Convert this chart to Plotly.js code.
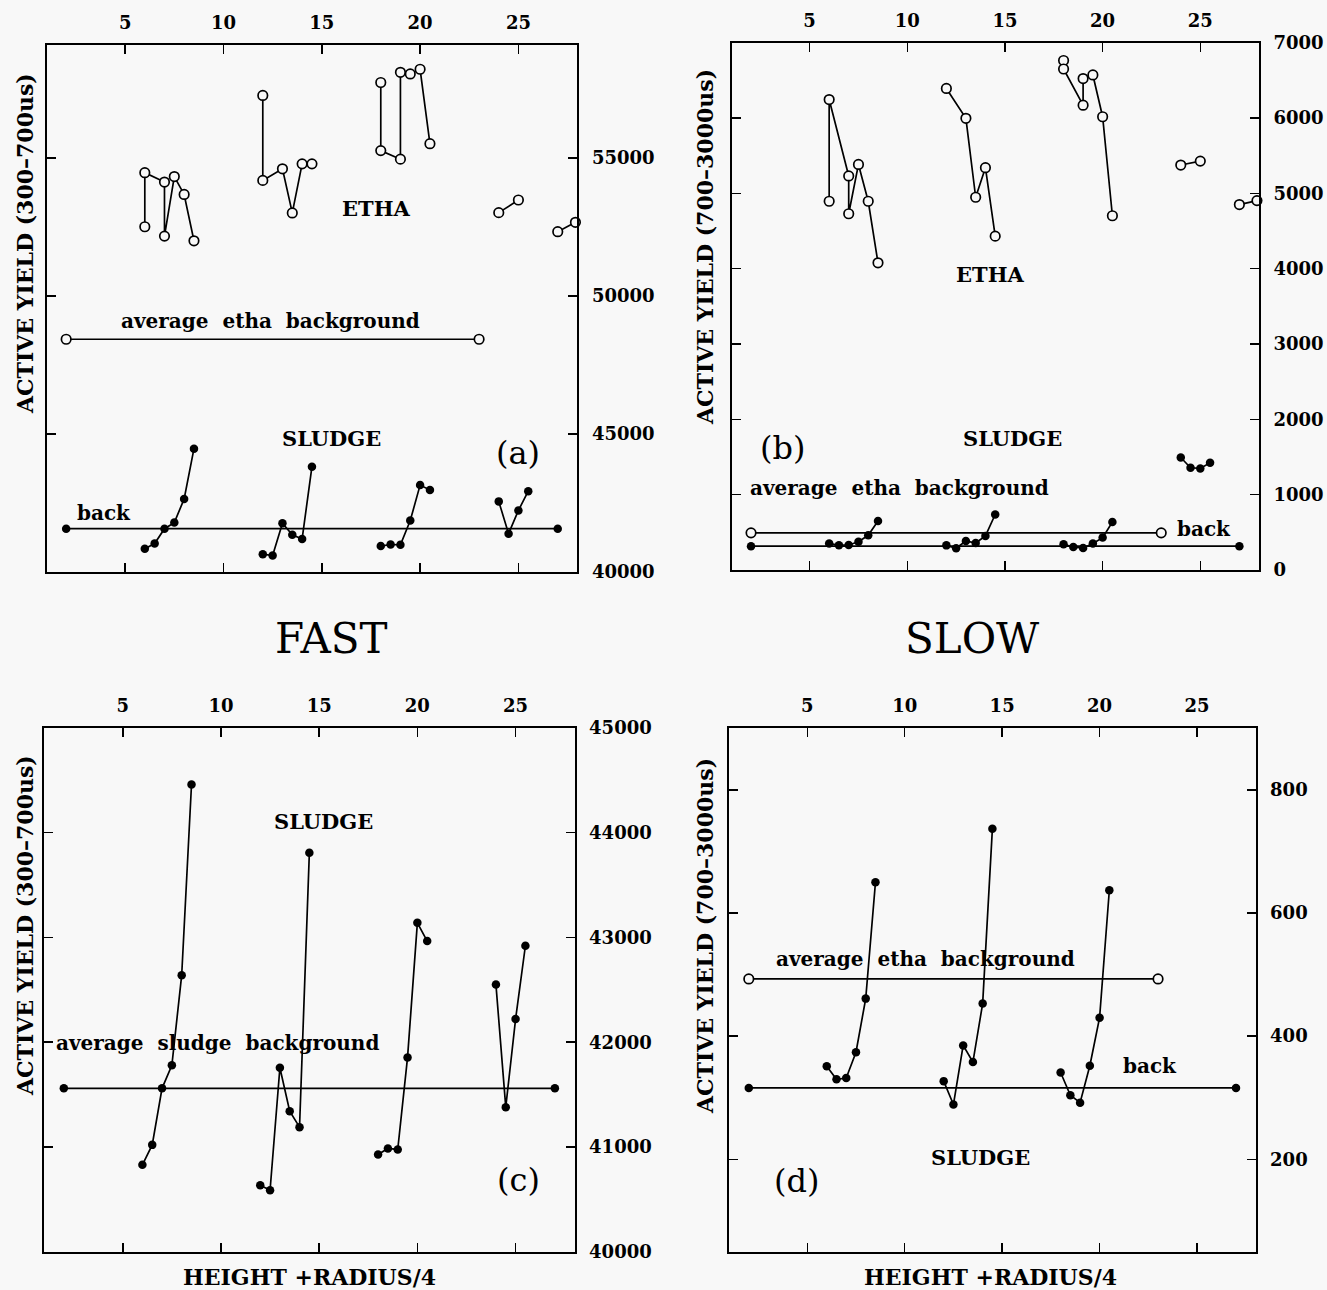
<!DOCTYPE html>
<html>
<head>
<meta charset="utf-8">
<script src="https://cdn.plot.ly/plotly-3.0.1.min.js"></script>
<style>html,body{margin:0;padding:0;background:#f8f8f8;}#chart{width:1327px;height:1290px;}</style>
</head>
<body>
<div id="chart"></div>
<script>
// ---------------- DATA ----------------
const xTicks = [5, 10, 15, 20, 25];
const fastTicksA = [40000, 45000, 50000, 55000];
const slowTicksB = [0, 1000, 2000, 3000, 4000, 5000, 6000, 7000];
const fastTicksC = [40000, 41000, 42000, 43000, 44000, 45000];
const slowTicksD = [200, 400, 600, 800];

// ETHA, fast window (300-700us)
const ethaFastG1X = [6, 6, 7, 7, 7.5, 8, 8.5];
const ethaFastG1Y = [52510, 54470, 54130, 52170, 54330, 53680, 52000];
const ethaFastG2X = [12, 12, 13, 13.5, 14, 14.5];
const ethaFastG2Y = [57270, 54190, 54610, 53010, 54790, 54790];
const ethaFastG3X = [18, 18, 19, 19, 19.5, 20, 20.5];
const ethaFastG3Y = [57740, 55270, 54960, 58110, 58050, 58220, 55520];
const ethaFastG4X = [24, 25];
const ethaFastG4Y = [53020, 53480];
const ethaFastG5X = [27, 27.9];
const ethaFastG5Y = [52330, 52670];
const ethaFastBackX = [2, 23];
const ethaFastBackY = [48430, 48430];

// SLUDGE, fast window (300-700us)
const sludgeFastG1X = [6, 6.5, 7, 7.5, 8, 8.5];
const sludgeFastG1Y = [40830, 41020, 41560, 41780, 42640, 44460];
const sludgeFastG2X = [12, 12.5, 13, 13.5, 14, 14.5];
const sludgeFastG2Y = [40635, 40587, 41756, 41342, 41189, 43809];
const sludgeFastG3X = [18, 18.5, 19, 19.5, 20, 20.5];
const sludgeFastG3Y = [40928, 40986, 40976, 41855, 43140, 42966];
const sludgeFastG4X = [24, 24.5, 25, 25.5];
const sludgeFastG4Y = [42550, 41380, 42221, 42921];
const sludgeFastBackX = [2, 27];
const sludgeFastBackY = [41560, 41560];

// ETHA, slow window (700-3000us)
const ethaSlowG1X = [6, 6, 7, 7, 7.5, 8, 8.5];
const ethaSlowG1Y = [4895, 6245, 5231, 4729, 5384, 4895, 4078];
const ethaSlowG2X = [12, 13, 13.5, 14, 14.5];
const ethaSlowG2Y = [6393, 5996, 4948, 5341, 4432];
const ethaSlowG3X = [18, 18, 19, 19, 19.5, 20, 20.5];
const ethaSlowG3Y = [6764, 6651, 6170, 6524, 6572, 6017, 4703];
const ethaSlowG4X = [24, 25];
const ethaSlowG4Y = [5376, 5428];
const ethaSlowG5X = [27, 27.9];
const ethaSlowG5Y = [4851, 4904];
const ethaSlowBackX = [2, 23];
const ethaSlowBackY = [493, 493];

// SLUDGE, slow window (700-3000us)
const sludgeSlowG1X = [6, 6.5, 7, 7.5, 8, 8.5];
const sludgeSlowG1Y = [351, 330, 332, 374, 461, 650];
const sludgeSlowG2X = [12, 12.5, 13, 13.5, 14, 14.5];
const sludgeSlowG2Y = [327, 289, 385, 358, 453, 737];
const sludgeSlowG3X = [18, 18.5, 19, 19.5, 20, 20.5];
const sludgeSlowG3Y = [341, 304, 292, 352, 430, 637];
const sludgeSlowG4X = [24, 24.5, 25, 25.5];
const sludgeSlowG4Y = [1493, 1357, 1348, 1425];
const sludgeSlowBackX = [2, 27];
const sludgeSlowBackY = [316, 316];

// ---------------- STYLE ----------------
const W = 1327, H = 1290;
const BG = '#f8f8f8';
const SERIF = '"DejaVu Serif", "Liberation Serif", serif';
const px = v => v / W;
const py = v => 1 - v / H;

function open(x, y, xa, ya) {
  return {x: x, y: y, xaxis: xa, yaxis: ya, type: 'scatter', mode: 'lines+markers',
    line: {color: 'black', width: 1.7},
    marker: {symbol: 'circle', size: 9.5, color: BG, line: {color: 'black', width: 1.7}},
    cliponaxis: false, hoverinfo: 'skip', showlegend: false};
}
function filled(x, y, xa, ya, clip) {
  return {x: x, y: y, xaxis: xa, yaxis: ya, type: 'scatter', mode: 'lines+markers',
    line: {color: 'black', width: 1.7},
    marker: {symbol: 'circle', size: 8.5, color: 'black'},
    cliponaxis: !!clip, hoverinfo: 'skip', showlegend: false};
}

const traces = [
  // (a)
  open(ethaFastG1X, ethaFastG1Y, 'x', 'y'),
  open(ethaFastG2X, ethaFastG2Y, 'x', 'y'),
  open(ethaFastG3X, ethaFastG3Y, 'x', 'y'),
  open(ethaFastG4X, ethaFastG4Y, 'x', 'y'),
  open(ethaFastG5X, ethaFastG5Y, 'x', 'y'),
  open(ethaFastBackX, ethaFastBackY, 'x', 'y'),
  filled(sludgeFastBackX, sludgeFastBackY, 'x', 'y'),
  filled(sludgeFastG1X, sludgeFastG1Y, 'x', 'y'),
  filled(sludgeFastG2X, sludgeFastG2Y, 'x', 'y'),
  filled(sludgeFastG3X, sludgeFastG3Y, 'x', 'y'),
  filled(sludgeFastG4X, sludgeFastG4Y, 'x', 'y'),
  // (b)
  open(ethaSlowG1X, ethaSlowG1Y, 'x2', 'y2'),
  open(ethaSlowG2X, ethaSlowG2Y, 'x2', 'y2'),
  open(ethaSlowG3X, ethaSlowG3Y, 'x2', 'y2'),
  open(ethaSlowG4X, ethaSlowG4Y, 'x2', 'y2'),
  open(ethaSlowG5X, ethaSlowG5Y, 'x2', 'y2'),
  open(ethaSlowBackX, ethaSlowBackY, 'x2', 'y2'),
  filled(sludgeSlowBackX, sludgeSlowBackY, 'x2', 'y2'),
  filled(sludgeSlowG1X, sludgeSlowG1Y, 'x2', 'y2'),
  filled(sludgeSlowG2X, sludgeSlowG2Y, 'x2', 'y2'),
  filled(sludgeSlowG3X, sludgeSlowG3Y, 'x2', 'y2'),
  filled(sludgeSlowG4X, sludgeSlowG4Y, 'x2', 'y2'),
  // (c)
  filled(sludgeFastBackX, sludgeFastBackY, 'x3', 'y3', true),
  filled(sludgeFastG1X, sludgeFastG1Y, 'x3', 'y3', true),
  filled(sludgeFastG2X, sludgeFastG2Y, 'x3', 'y3', true),
  filled(sludgeFastG3X, sludgeFastG3Y, 'x3', 'y3', true),
  filled(sludgeFastG4X, sludgeFastG4Y, 'x3', 'y3', true),
  // (d)
  {...open(ethaSlowBackX, ethaSlowBackY, 'x4', 'y4'), cliponaxis: true},
  filled(sludgeSlowBackX, sludgeSlowBackY, 'x4', 'y4', true),
  filled(sludgeSlowG1X, sludgeSlowG1Y, 'x4', 'y4', true),
  filled(sludgeSlowG2X, sludgeSlowG2Y, 'x4', 'y4', true),
  filled(sludgeSlowG3X, sludgeSlowG3Y, 'x4', 'y4', true)
];

const tickFont = {family: SERIF, size: 18, color: 'black', weight: 'bold'};
function xAx(domain, anchor) {
  return {domain: domain, anchor: anchor, side: 'top', range: [1, 28],
    tickvals: xTicks, ticktext: xTicks.map(String), ticks: 'inside', ticklen: 9, tickwidth: 1.5,
    tickcolor: 'black', showline: true, linewidth: 2, linecolor: 'black', mirror: 'ticks',
    showgrid: false, zeroline: false, tickfont: tickFont, ticklabelstandoff: 7, fixedrange: true};
}
function yAx(domain, anchor, range, vals) {
  return {domain: domain, anchor: anchor, side: 'right', range: range,
    tickvals: vals, ticktext: vals.map(String), ticks: 'inside', ticklen: 9, tickwidth: 1.5,
    tickcolor: 'black', showline: true, linewidth: 2, linecolor: 'black', mirror: 'ticks',
    showgrid: false, zeroline: false, tickfont: tickFont, ticklabelstandoff: 9, fixedrange: true};
}

function lab(text, x, y, size, bold, extra) {
  return Object.assign({text: text, x: px(x), y: py(y), xref: 'paper', yref: 'paper',
    xanchor: 'center', yanchor: 'middle', showarrow: false,
    font: {family: SERIF, size: size, color: 'black', weight: bold ? 'bold' : 'normal'}}, extra || {});
}

const annotations = [
  // (a)
  lab('ETHA', 376, 208, 21, true),
  lab('average  etha  background', 270, 321, 20, true),
  lab('SLUDGE', 331, 438, 21, true),
  lab('(a)', 518, 453, 32, false),
  lab('back', 104, 513, 20, true),
  // (b)
  lab('ETHA', 990, 274, 21, true),
  lab('SLUDGE', 1012, 438, 21, true),
  lab('(b)', 783, 448, 32, false),
  lab('average  etha  background', 899, 488, 20, true),
  lab('back', 1204, 529, 20, true),
  // (c)
  lab('SLUDGE', 323, 821, 21, true),
  lab('average  sludge  background', 217, 1043, 20, true),
  lab('(c)', 518, 1180, 32, false),
  lab('HEIGHT +RADIUS/4', 309, 1277, 22, true),
  // (d)
  lab('average  etha  background', 926, 959, 20, true),
  lab('back', 1150, 1066, 20, true),
  lab('SLUDGE', 980, 1157, 21, true),
  lab('(d)', 796, 1181, 32, false),
  lab('HEIGHT +RADIUS/4', 990, 1277, 22, true),
  // middle
  lab('FAST', 331, 638, 42, false),
  lab('SLOW', 973, 638, 42, false),
  // y titles
  lab('ACTIVE YIELD (300–700us)', 25, 244, 22, true, {textangle: -90}),
  lab('ACTIVE YIELD (700–3000us)', 705, 247, 22, true, {textangle: -90}),
  lab('ACTIVE YIELD (300–700us)', 25, 926, 22, true, {textangle: -90}),
  lab('ACTIVE YIELD (700–3000us)', 705, 936, 22, true, {textangle: -90})
];

const layout = {
  width: W, height: H,
  margin: {l: 0, r: 0, t: 0, b: 0},
  paper_bgcolor: BG, plot_bgcolor: BG,
  showlegend: false,
  xaxis: xAx([px(46.5), px(577.4)], 'y'),
  yaxis: yAx([py(571.7), py(45)], 'x', [40000, 59100], fastTicksA),
  xaxis2: xAx([px(731.5), px(1258.9)], 'y2'),
  yaxis2: yAx([py(570), py(42.7)], 'x2', [0, 7000], slowTicksB),
  xaxis3: xAx([px(44.2), px(574.5)], 'y3'),
  yaxis3: yAx([py(1251.7), py(728)], 'x3', [40000, 45000], fastTicksC),
  xaxis4: xAx([px(729.3), px(1255.5)], 'y4'),
  yaxis4: yAx([py(1251.7), py(728.3)], 'x4', [50, 900], slowTicksD),
  annotations: annotations
};

Plotly.newPlot('chart', traces, layout, {displayModeBar: false, staticPlot: true});
</script>
</body>
</html>
